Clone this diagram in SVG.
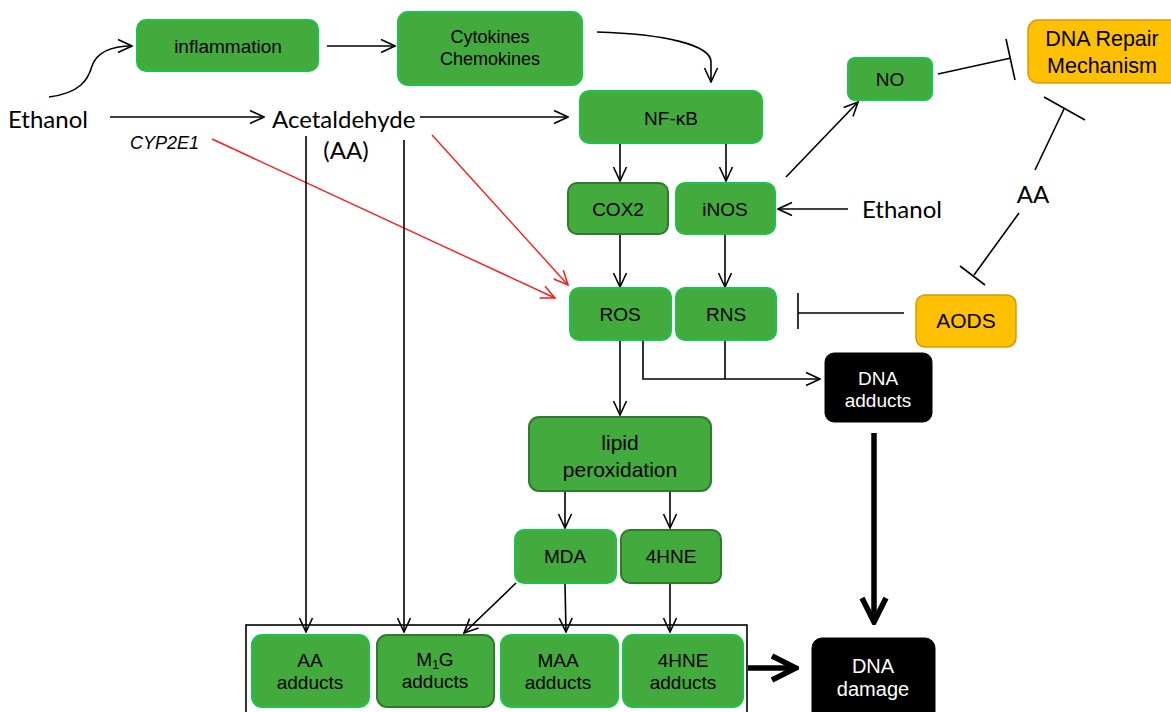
<svg xmlns="http://www.w3.org/2000/svg" width="1171" height="712" viewBox="0 0 1171 712">
<style>
.g{fill:#43aa3d;stroke:#1dc24a;stroke-width:2}
.gd{fill:#43aa3d;stroke:#2f7a2c;stroke-width:2}
.o{fill:#ffc000;stroke:#d49a10;stroke-width:1.5}
.k{fill:#000;stroke:#000;stroke-width:1}
.t{font-family:"Liberation Sans",Arial,sans-serif;font-size:19px;fill:#000;text-anchor:middle}
.tw{font-family:"Liberation Sans",Arial,sans-serif;font-size:19px;fill:#fff;text-anchor:middle}
.big{font-family:Lato,"Open Sans",sans-serif;font-size:24px;fill:#000}
.ln{fill:none;stroke:#000;stroke-width:1.6}
.red{fill:none;stroke:#ff1a1a;stroke-width:1.4}
</style>
<defs>
<marker id="ah" viewBox="0 0 16 16" refX="15" refY="8" markerWidth="16" markerHeight="16" markerUnits="userSpaceOnUse" orient="auto"><path d="M1,1.5 L15,8 L1,14.5" fill="none" stroke="#000" stroke-width="1.6"/></marker>
<marker id="ahr" viewBox="0 0 16 16" refX="15" refY="8" markerWidth="16" markerHeight="16" markerUnits="userSpaceOnUse" orient="auto"><path d="M1,1.5 L15,8 L1,14.5" fill="none" stroke="#ff1a1a" stroke-width="1.5"/></marker>
<marker id="ahb" viewBox="0 0 30 30" refX="27" refY="15" markerWidth="30" markerHeight="30" markerUnits="userSpaceOnUse" orient="auto"><path d="M3,3 L27,15 L3,27" fill="none" stroke="#000" stroke-width="5.5"/></marker>
</defs>

<g id="connectors">
<path class="ln" d="M49,97 C80,93 88,80 92,66 C97,52 110,46 132,46" marker-end="url(#ah)"/>
<line class="ln" x1="327" y1="46" x2="395" y2="46" marker-end="url(#ah)"/>
<path class="ln" d="M597,32 C665,34 711,45 711,62 L711,82" marker-end="url(#ah)"/>
<line class="ln" x1="110" y1="117" x2="264" y2="117" marker-end="url(#ah)"/>
<line class="ln" x1="420" y1="117" x2="568" y2="117" marker-end="url(#ah)"/>
<line class="red" x1="212" y1="139" x2="555" y2="298" marker-end="url(#ahr)"/>
<line class="red" x1="432" y1="135" x2="568" y2="285" marker-end="url(#ahr)"/>
<line class="ln" x1="306" y1="136" x2="306" y2="632" marker-end="url(#ah)"/>
<line class="ln" x1="404" y1="140" x2="404" y2="632" marker-end="url(#ah)"/>
<line class="ln" x1="620" y1="143" x2="620" y2="181" marker-end="url(#ah)"/>
<line class="ln" x1="726" y1="143" x2="726" y2="181" marker-end="url(#ah)"/>
<line class="ln" x1="786" y1="177" x2="858" y2="102" marker-end="url(#ah)"/>
<line class="ln" x1="938" y1="74" x2="1011" y2="58"/>
<line class="ln" x1="1006" y1="39" x2="1015" y2="80"/>
<line class="ln" x1="1035" y1="170" x2="1064" y2="109"/>
<line class="ln" x1="1044" y1="97" x2="1085" y2="120"/>
<line class="ln" x1="1019" y1="213" x2="974" y2="275"/>
<line class="ln" x1="960" y1="266" x2="985" y2="285"/>
<line class="ln" x1="848" y1="209" x2="778" y2="209" marker-end="url(#ah)"/>
<line class="ln" x1="620" y1="234" x2="620" y2="287" marker-end="url(#ah)"/>
<line class="ln" x1="725" y1="234" x2="725" y2="287" marker-end="url(#ah)"/>
<line class="ln" x1="904" y1="313" x2="798" y2="313"/>
<line class="ln" x1="798" y1="293" x2="798" y2="329"/>
<path class="ln" d="M643,340 L643,379 L820,379" marker-end="url(#ah)"/>
<line class="ln" x1="725" y1="340" x2="725" y2="379"/>
<line class="ln" x1="620" y1="340" x2="620" y2="415" marker-end="url(#ah)"/>
<line class="ln" x1="565" y1="491" x2="565" y2="528" marker-end="url(#ah)"/>
<line class="ln" x1="670" y1="491" x2="670" y2="528" marker-end="url(#ah)"/>
<line class="ln" x1="565" y1="583" x2="566" y2="632" marker-end="url(#ah)"/>
<line class="ln" x1="670" y1="583" x2="670" y2="632" marker-end="url(#ah)"/>
<line class="ln" x1="516" y1="583" x2="464" y2="633" marker-end="url(#ah)"/>
<line x1="874" y1="433" x2="874" y2="622" stroke="#000" stroke-width="5.5" marker-end="url(#ahb)"/>
<line x1="748" y1="668" x2="796" y2="668" stroke="#000" stroke-width="5.5" marker-end="url(#ahb)"/>
<rect x="246" y="625" width="501" height="100" fill="none" stroke="#000" stroke-width="1.6"/>
</g>

<g id="labels">
<text class="big" x="8" y="128">Ethanol</text>
<text class="big" x="272" y="128">Acetaldehyde</text>
<text class="big" x="346" y="159" text-anchor="middle">(AA)</text>
<text x="130" y="149" font-family="Liberation Sans,Arial,sans-serif" font-size="18" font-style="italic">CYP2E1</text>
<text class="big" x="862" y="218">Ethanol</text>
<text class="big" x="1033" y="203" text-anchor="middle">AA</text>
</g>

<g id="inflammation"><rect class="g" x="137" y="20" width="181" height="51" rx="9"/><text class="t" x="228" y="53">inflammation</text></g>
<g id="cytokines"><rect class="g" x="398" y="12" width="184" height="73" rx="10"/><text class="t" x="490" y="43" style="font-size:18px">Cytokines</text><text class="t" x="490" y="65" style="font-size:18px">Chemokines</text></g>
<g id="nfkb"><rect class="g" x="580" y="91" width="182" height="52" rx="9"/><text class="t" x="671" y="125">NF-κB</text></g>
<g id="no"><rect class="g" x="848" y="58" width="84" height="42" rx="7"/><text class="t" x="890" y="86">NO</text></g>
<g id="dnarepair"><rect class="o" x="1028" y="20" width="160" height="63" rx="10"/><text class="t" x="1102" y="46" style="font-size:21.5px">DNA Repair</text><text class="t" x="1102" y="73" style="font-size:21.5px">Mechanism</text></g>
<g id="cox2"><rect class="gd" x="568" y="183" width="100" height="51" rx="9"/><text class="t" x="618" y="216">COX2</text></g>
<g id="inos"><rect class="g" x="676" y="183" width="99" height="51" rx="9"/><text class="t" x="725" y="216">iNOS</text></g>
<g id="ros"><rect class="g" x="570" y="288" width="101" height="52" rx="9"/><text class="t" x="620" y="321">ROS</text></g>
<g id="rns"><rect class="g" x="676" y="288" width="100" height="52" rx="9"/><text class="t" x="726" y="321">RNS</text></g>
<g id="aods"><rect class="o" x="916" y="295" width="100" height="52" rx="9"/><text class="t" x="966" y="328" style="font-size:21px">AODS</text></g>
<g id="dnaadducts"><rect class="k" x="825" y="353" width="107" height="69" rx="9"/><text class="tw" x="878" y="385">DNA</text><text class="tw" x="878" y="407">adducts</text></g>
<g id="lipid"><rect class="gd" x="529" y="417" width="182" height="74" rx="10"/><text class="t" x="620" y="450" style="font-size:21px">lipid</text><text class="t" x="620" y="477" style="font-size:21px">peroxidation</text></g>
<g id="mda"><rect class="g" x="515" y="530" width="101" height="53" rx="9"/><text class="t" x="565" y="563">MDA</text></g>
<g id="hne"><rect class="gd" x="621" y="530" width="100" height="53" rx="9"/><text class="t" x="671" y="563">4HNE</text></g>
<g id="aaadducts"><rect class="g" x="252" y="635" width="117" height="72" rx="10"/><text class="t" x="310" y="667">AA</text><text class="t" x="310" y="689">adducts</text></g>
<g id="m1gadducts"><rect class="gd" x="377" y="635" width="117" height="72" rx="10"/><text class="t" x="435" y="666">M<tspan style="font-size:12px" dy="3">1</tspan><tspan dy="-3">G</tspan></text><text class="t" x="435" y="688">adducts</text></g>
<g id="maaadducts"><rect class="g" x="501" y="635" width="117" height="72" rx="10"/><text class="t" x="558" y="667">MAA</text><text class="t" x="558" y="689">adducts</text></g>
<g id="hneadducts"><rect class="g" x="623" y="635" width="120" height="72" rx="10"/><text class="t" x="683" y="667">4HNE</text><text class="t" x="683" y="689">adducts</text></g>
<g id="dnadamage"><rect class="k" x="812" y="638" width="123" height="84" rx="10"/><text class="tw" x="873" y="673" style="font-size:20px">DNA</text><text class="tw" x="873" y="696" style="font-size:20px">damage</text></g>
</svg>
